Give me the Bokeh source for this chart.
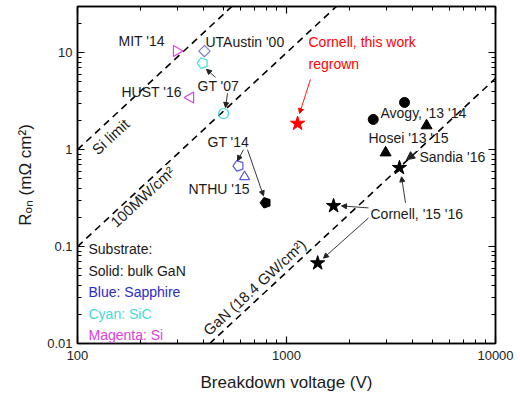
import math
from bokeh.plotting import figure
from bokeh.models import LogAxis, FixedTicker, Label, Arrow, NormalHead
from bokeh.embed import file_html
from bokeh.resources import INLINE

# ---------------- data ----------------
x_ticks = [100, 1000, 10000]
x_tick_labels = ["100", "1000", "10000"]
y_ticks = [0.01, 0.1, 1, 10]
y_tick_labels = ["0.01", "0.1", "1", "10"]
x_minor = [k * 10 ** e for e in (2, 3) for k in range(2, 10)]
y_minor = [round(k * 10.0 ** e, 4) for e in (-2, -1, 0) for k in range(2, 10)] + [20, 30]

# limit lines (end points)
si_v = [100, 1000]
si_r = [1.0, 100.0]
mw_v = [100, 10000]
mw_r = [0.1, 1000.0]
gan_v = [100, 10000]
gan_r = [0.000543, 5.43]

# Si substrate (magenta)
mit_v = [298]
mit_r = [10.4]
hust_v = [347]
hust_r = [3.46]
# SiC substrate (cyan)
gt07_pent_v = [397]
gt07_pent_r = [7.8]
gt07_circ_v = [500]
gt07_circ_r = [2.36]
# UT Austin
uta_v = [405]
uta_r = [10.4]
# Sapphire (blue)
gt14_v = [589]
gt14_r = [0.68]
nthu_v = [630]
nthu_r = [0.525]
# bulk GaN (solid black)
gt14b_v = [794]
gt14b_r = [0.283]
avogy_v = [2600, 3670]
avogy_r = [2.05, 3.07]
hosei_v = [4680, 2980]
hosei_r = [1.77, 0.93]
cornell_v = [3470, 1680, 1410]
cornell_r = [0.65, 0.263, 0.0675]
# this work
regrown_v = [1130]
regrown_r = [1.86]

FONT = "Liberation Sans"
MAG = "#e040e0"
CYAN = "#3ee0e0"
BLUE = "#5a5ae0"
PURP = "#7c7cd0"
RED = "#ff0000"
TXT = "#1a1a1a"

p = figure(width=520, height=396, x_axis_type="log", y_axis_type="log",
           x_range=(100, 10000), y_range=(0.01, 30),
           output_backend="svg", toolbar_location=None,
           min_border_left=77, min_border_right=25, min_border_top=6, min_border_bottom=53)
p.grid.visible = False
p.outline_line_color = "black"
p.outline_line_width = 1.5
p.background_fill_color = "white"
p.border_fill_color = "white"


def style_axis(ax, show_labels):
    ax.axis_line_color = "black"
    ax.axis_line_width = 1.5
    ax.major_tick_in = 7
    ax.major_tick_out = 0
    ax.minor_tick_in = 4
    ax.minor_tick_out = 0
    ax.major_tick_line_color = "black"
    ax.minor_tick_line_color = "black"
    ax.major_tick_line_width = 1.2
    ax.minor_tick_line_width = 1
    if show_labels:
        ax.major_label_text_font = FONT
        ax.major_label_text_font_size = "13px"
        ax.major_label_text_color = "#222222"
        ax.axis_label_text_font = FONT
        ax.axis_label_text_font_size = "17px"
        ax.axis_label_text_font_style = "normal"
        ax.axis_label_text_color = TXT
    else:
        ax.major_label_text_font_size = "0px"
        ax.major_label_text_color = None
        ax.major_label_standoff = 0


p.xaxis.ticker = FixedTicker(ticks=x_ticks, minor_ticks=x_minor)
p.yaxis.ticker = FixedTicker(ticks=y_ticks, minor_ticks=y_minor)
p.xaxis.major_label_overrides = {t: s for t, s in zip(x_ticks, x_tick_labels)}
p.yaxis.major_label_overrides = {t: s for t, s in zip(y_ticks, y_tick_labels)}
for ax in p.xaxis:
    style_axis(ax, True)
    ax.major_label_standoff = 7
    ax.axis_label = "Breakdown voltage (V)"
    ax.axis_label_standoff = 10
for ax in p.yaxis:
    style_axis(ax, True)
    ax.major_label_standoff = 5
    ax.axis_label = "R\u2092\u2099 (m\u03a9 cm\u00b2)"
    ax.axis_label_standoff = 9

top = LogAxis(ticker=FixedTicker(ticks=x_ticks, minor_ticks=x_minor))
style_axis(top, False)
p.add_layout(top, "above")
right = LogAxis(ticker=FixedTicker(ticks=y_ticks, minor_ticks=y_minor))
style_axis(right, False)
p.add_layout(right, "right")

# limit lines
for vv, rr in ((si_v, si_r), (mw_v, mw_r), (gan_v, gan_r)):
    p.line(vv, rr, line_color="black", line_width=1.6, line_dash="7 5")

# markers
p.scatter(mit_v, mit_r, marker="triangle", angle=-math.pi / 2, size=11,
          fill_color=None, line_color=MAG, line_width=1.2)
p.scatter(hust_v, hust_r, marker="triangle", angle=math.pi / 2, size=11,
          fill_color=None, line_color=MAG, line_width=1.2)
p.scatter(uta_v, uta_r, marker="square", angle=math.pi / 4, size=8,
          fill_color=None, line_color=PURP, line_width=1.2)
p.ngon(gt07_pent_v, gt07_pent_r, radius=5.5, radius_units="screen", n=5, angle=math.pi / 10,
       fill_color=None, line_color=CYAN, line_width=1.2)
p.scatter(gt07_circ_v, gt07_circ_r, marker="circle", size=10,
          fill_color=None, line_color=CYAN, line_width=1.2)
p.ngon(gt14_v, gt14_r, radius=5.5, radius_units="screen", n=5, angle=math.pi / 10,
       fill_color=None, line_color=BLUE, line_width=1.2)
p.scatter(nthu_v, nthu_r, marker="triangle", size=10,
          fill_color=None, line_color=BLUE, line_width=1.2)
p.ngon(gt14b_v, gt14b_r, radius=5.5, radius_units="screen", n=5, angle=math.pi / 10,
       fill_color="black", line_color="black")
p.scatter(avogy_v, avogy_r, marker="circle", size=10, fill_color="black", line_color="black")
p.scatter(hosei_v, hosei_r, marker="triangle", size=11, fill_color="black", line_color="black")
p.scatter(cornell_v, cornell_r, marker="star", size=15, fill_color="black", line_color="black")
p.scatter(regrown_v, regrown_r, marker="star", size=15, fill_color=RED, line_color=RED)


def at(px, py):
    return 10 ** (2 + (px - 77) / 209.0), 10 ** ((343 - py) / 96.5 - 2)


def lab(px, py, text, size=14, color=TXT, align="left", baseline="middle", angle=0.0):
    x, y = at(px, py)
    p.add_layout(Label(x=x, y=y, text=text, text_font=FONT, text_font_size=f"{size}px",
                       text_color=color, text_align=align, text_baseline=baseline, angle=angle))


def arr(p0, p1, color="#222222", head=5):
    x0, y0 = at(*p0)
    x1, y1 = at(*p1)
    p.add_layout(Arrow(x_start=x0, y_start=y0, x_end=x1, y_end=y1,
                       line_color=color, line_width=0.9,
                       end=NormalHead(size=head, fill_color=color, line_color=color, line_width=1)))


# annotations
lab(118, 42, "MIT '14")
lab(205, 43, "UTAustin '00")
lab(308, 43, "Cornell, this work", color=RED)
lab(308, 65, "regrown", color=RED)
lab(121, 93, "HUST '16")
lab(197, 87, "GT '07")
lab(207, 142, "GT '14")
lab(188, 189, "NTHU '15")
lab(380, 113, "Avogy, '13 '14")
lab(368, 138, "Hosei '13 '15")
lab(419, 157, "Sandia '16")
lab(370, 214, "Cornell, '15 '16")

lab(88, 249, "Substrate:")
lab(88, 271, "Solid: bulk GaN")
lab(88, 292, "Blue: Sapphire", color="#2a2acc")
lab(88, 314, "Cyan: SiC", color="#40dcdc")
lab(88, 335, "Magenta: Si", color=MAG)

ang = math.atan(2 * 96.5 / 209.0)
lab(110, 137, "Si limit", size=15, align="center", angle=ang)
lab(142, 197, "100MW/cm²", size=15, align="center", angle=ang)
lab(254, 287, "GaN (18.4 GW/cm²)", size=15, align="center", angle=ang)

arr((310, 80), (299, 114), color=RED)
arr((215, 78), (206, 70))
arr((227, 94), (225, 108))
arr((243, 150), (237, 161))
arr((247, 150), (263, 196))
arr((405, 203), (401, 177))
arr((368, 208), (341, 206))
arr((368, 218), (323, 258))
arr((418, 151), (406, 160), head=8)

open("out.html", "w").write(file_html(p, INLINE))
